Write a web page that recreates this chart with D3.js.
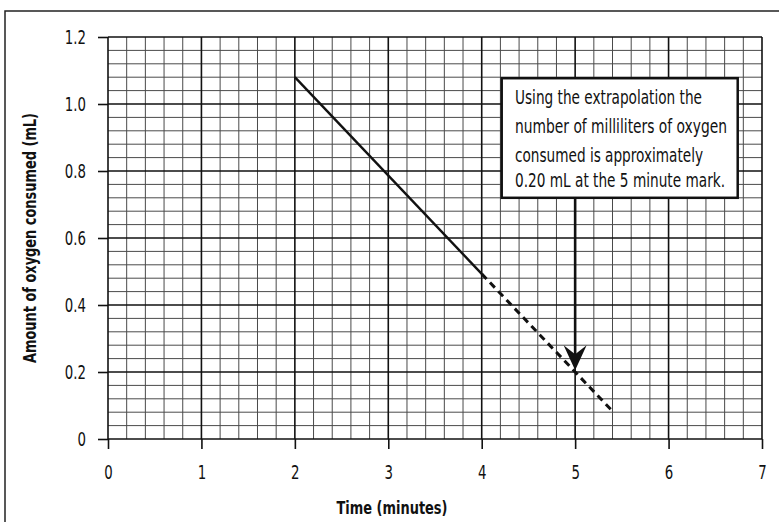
<!DOCTYPE html>
<html>
<head>
<meta charset="utf-8">
<script src="https://cdn.jsdelivr.net/npm/d3@7"></script>
<style>
  html, body { margin: 0; padding: 0; background: #fff; }
  svg { display: block; }
  text { font-family: "Liberation Sans Narrow", "DejaVu Sans Condensed", "Arial Narrow", sans-serif; fill: #111; }
</style>
</head>
<body>
<svg id="chart" width="779" height="522"></svg>
<script>
// ---- data ----
const xTicks = [0, 1, 2, 3, 4, 5, 6, 7];
const xTickLabels = ["0", "1", "2", "3", "4", "5", "6", "7"];
const yTicks = [0, 0.2, 0.4, 0.6, 0.8, 1.0, 1.2];
const yTickLabels = ["0", "0.2", "0.4", "0.6", "0.8", "1.0", "1.2"];
const solidTime = [2, 4];
const solidOxygen = [1.08, 0.493];
const dashTime = [4, 5.4];
const dashOxygen = [0.493, 0.083];
const arrowTime = 5;
const arrowTarget = 0.205;
const noteLines = [
  "Using the extrapolation the",
  "number of milliliters of oxygen",
  "consumed is approximately",
  "0.20 mL at the 5 minute mark."
];
const xTitle = "Time (minutes)";
const yTitle = "Amount of oxygen consumed (mL)";

// ---- layout ----
const svg = d3.select("#chart");
const x = d3.scaleLinear().domain([0, 7]).range([108, 762]);
const y = d3.scaleLinear().domain([0, 1.2]).range([439, 37]);

// outer frame
svg.append("rect").attr("x", 5).attr("y", 11).attr("width", 820).attr("height", 620)
  .attr("fill", "none").attr("stroke", "#222").attr("stroke-width", 1.5);

// minor grid
const minorX = d3.range(0, 35).map(i => i * 0.2).filter(v => Math.abs(v - Math.round(v)) > 1e-6);
const minorY = d3.range(0, 31).map(i => i * 0.04).filter(v => Math.abs(v / 0.2 - Math.round(v / 0.2)) > 1e-6);
const g = svg.append("g");
g.selectAll("line.mx").data(minorX).join("line")
  .attr("x1", d => x(d)).attr("x2", d => x(d)).attr("y1", y(0)).attr("y2", y(1.2))
  .attr("stroke", "#4a4a4a").attr("stroke-width", 1);
g.selectAll("line.my").data(minorY).join("line")
  .attr("x1", x(0)).attr("x2", x(7)).attr("y1", d => y(d)).attr("y2", d => y(d))
  .attr("stroke", "#4a4a4a").attr("stroke-width", 1);
// major grid
g.selectAll("line.Mx").data(xTicks).join("line")
  .attr("x1", d => x(d)).attr("x2", d => x(d)).attr("y1", y(0)).attr("y2", y(1.2))
  .attr("stroke", "#111").attr("stroke-width", 1.6);
g.selectAll("line.My").data(yTicks).join("line")
  .attr("x1", x(0)).attr("x2", x(7)).attr("y1", d => y(d)).attr("y2", d => y(d))
  .attr("stroke", "#111").attr("stroke-width", 1.6);

// axes
const xAxis = d3.axisBottom(x).tickValues(xTicks).tickFormat((d, i) => xTickLabels[i])
  .tickSize(10).tickPadding(16);
const yAxis = d3.axisLeft(y).tickValues(yTicks).tickFormat((d, i) => yTickLabels[i])
  .tickSize(10).tickPadding(12);
const gx = svg.append("g").attr("transform", `translate(0,${y(0)})`).call(xAxis);
const gy = svg.append("g").attr("transform", `translate(${x(0)},0)`).call(yAxis);
[gx, gy].forEach(a => {
  a.attr("font-size", null).attr("font-family", null);
  a.select(".domain").remove();
  a.selectAll(".tick line").attr("stroke", "#111").attr("stroke-width", 1.6);
  a.selectAll(".tick text").style("font-size", "20px").attr("fill", "#111")
    .style("font-family", '"Liberation Sans Narrow", "DejaVu Sans Condensed", sans-serif')
    .each(function () {
      const w = this.getComputedTextLength();
      d3.select(this).attr("textLength", w * 0.74).attr("lengthAdjust", "spacingAndGlyphs");
    });
});

// axis titles
svg.append("text").attr("x", 392).attr("y", 514).attr("text-anchor", "middle")
  .style("font-size", "18px").attr("font-weight", "bold")
  .attr("textLength", 111).attr("lengthAdjust", "spacingAndGlyphs").text(xTitle);
svg.append("text").attr("transform", "translate(36,238) rotate(-90)").attr("text-anchor", "middle")
  .style("font-size", "17px").attr("font-weight", "bold")
  .attr("textLength", 250).attr("lengthAdjust", "spacingAndGlyphs").text(yTitle);

// lines
const line = d3.line().x(d => x(d[0])).y(d => y(d[1]));
svg.append("path").datum(d3.zip(solidTime, solidOxygen)).attr("d", line)
  .attr("fill", "none").attr("stroke", "#111").attr("stroke-width", 2.4);
svg.append("path").datum(d3.zip(dashTime, dashOxygen)).attr("d", line)
  .attr("fill", "none").attr("stroke", "#111").attr("stroke-width", 3)
  .attr("stroke-dasharray", "7,5");

// annotation box (in data units)
const box = { t0: 4.214, t1: 6.74, v0: 0.72, v1: 1.077 };
svg.append("rect").attr("x", x(box.t0)).attr("y", y(box.v1))
  .attr("width", x(box.t1) - x(box.t0)).attr("height", y(box.v0) - y(box.v1))
  .attr("fill", "#fff").attr("stroke", "#111").attr("stroke-width", 2.5);
const widths = [187, 212, 188, 210];
const baselines = [104, 133, 161.5, 187];
svg.selectAll("text.note").data(noteLines).join("text").attr("class", "note")
  .attr("x", 515).attr("y", (d, i) => baselines[i]).style("font-size", "19px")
  .attr("textLength", (d, i) => widths[i]).attr("lengthAdjust", "spacingAndGlyphs")
  .text(d => d);

// arrow
const ax = x(arrowTime), tipY = y(arrowTarget);
svg.append("line").attr("x1", ax).attr("x2", ax).attr("y1", y(box.v0)).attr("y2", tipY - 15)
  .attr("stroke", "#111").attr("stroke-width", 2.6);
svg.append("path")
  .attr("d", `M${ax},${tipY} L${ax - 11.5},${tipY - 25} L${ax},${tipY - 16} L${ax + 11.5},${tipY - 25} Z`)
  .attr("fill", "#111");
</script>
</body>
</html>
